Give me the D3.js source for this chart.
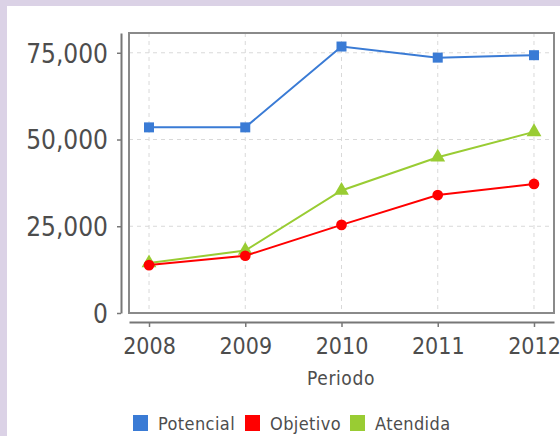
<!DOCTYPE html>
<html>
<head>
<meta charset="utf-8">
<script src="https://cdn.jsdelivr.net/npm/d3@7"></script>
<style>
  html, body { margin: 0; padding: 0; background: #dbd2e6; }
  svg { display: block; }
  text { font-family: "DejaVu Sans Condensed", "DejaVu Sans", sans-serif; fill: #4d4d4d; }
</style>
</head>
<body>
<svg id="chart" width="560" height="436"></svg>
<script>
// data
var periods   = ["2008", "2009", "2010", "2011", "2012"];
var potencial = [53500, 53500, 76800, 73600, 74300];
var objetivo  = [13800, 16500, 25400, 34000, 37200];
var atendida  = [14400, 18000, 35300, 44900, 52200];
var yTicks    = [0, 25000, 50000, 75000];
var yTop      = 80700;

var seriesNames  = ["Potencial", "Objetivo", "Atendida"];
var seriesValues = [potencial, objetivo, atendida];
var seriesColors = ["#3a7bd5", "#ff0000", "#99cc33"];
var seriesShapes = [d3.symbolSquare, d3.symbolCircle, d3.symbolTriangle];
var shapeSizes   = [100, 90, 95];

var plot = {left: 129, top: 33, right: 554, bottom: 313};

var svg = d3.select("#chart");

// white panel
svg.append("rect")
    .attr("x", 7).attr("y", 6)
    .attr("width", 553).attr("height", 430)
    .attr("fill", "#ffffff");

var xScale = d3.scalePoint()
    .domain(periods)
    .range([plot.left, plot.right])
    .padding(0.208);

var yScale = d3.scaleLinear()
    .domain([0, yTop])
    .range([plot.bottom, plot.top]);

// grid
var grid = svg.append("g").attr("class", "grid");
grid.selectAll("line.h")
    .data(yTicks.slice(1))
    .enter().append("line")
    .attr("class", "h")
    .attr("x1", plot.left).attr("x2", plot.right)
    .attr("y1", function (d) { return yScale(d); })
    .attr("y2", function (d) { return yScale(d); })
    .attr("stroke", "#d9d9d9")
    .attr("stroke-dasharray", "4,4");
grid.selectAll("line.v")
    .data(periods)
    .enter().append("line")
    .attr("class", "v")
    .attr("y1", plot.top).attr("y2", plot.bottom)
    .attr("x1", function (d) { return xScale(d); })
    .attr("x2", function (d) { return xScale(d); })
    .attr("stroke", "#d9d9d9")
    .attr("stroke-dasharray", "4,4");

// plot border
svg.append("rect")
    .attr("x", plot.left).attr("y", plot.top)
    .attr("width", plot.right - plot.left)
    .attr("height", plot.bottom - plot.top)
    .attr("fill", "none")
    .attr("stroke", "#8a8a8a")
    .attr("stroke-width", 2);

// Y axis
var yAxis = d3.axisLeft(yScale)
    .tickValues(yTicks)
    .tickFormat(d3.format(","))
    .tickSize(4)
    .tickSizeOuter(0)
    .tickPadding(9);
var gy = svg.append("g")
    .attr("class", "y axis")
    .attr("transform", "translate(121,0)")
    .call(yAxis);
gy.select(".domain").attr("stroke", "#777").attr("stroke-width", 2);
gy.selectAll(".tick line").attr("stroke", "#777").attr("stroke-width", 1.5);
gy.selectAll(".tick text")
    .attr("font-size", 26)
    .attr("font-family", null)
    .attr("fill", null)
    .attr("dy", "0.36em");

// X axis
var xAxis = d3.axisBottom(xScale)
    .tickSize(5)
    .tickSizeOuter(0)
    .tickPadding(11);
var gx = svg.append("g")
    .attr("class", "x axis")
    .attr("transform", "translate(0,322)")
    .call(xAxis);
gx.select(".domain").attr("stroke", "#777").attr("stroke-width", 2);
gx.selectAll(".tick line").attr("stroke", "#777").attr("stroke-width", 1.5);
gx.selectAll(".tick text")
    .attr("font-size", 23)
    .attr("font-family", null)
    .attr("fill", null);

// axis title
svg.append("text")
    .attr("x", 341)
    .attr("y", 385)
    .attr("text-anchor", "middle")
    .attr("font-size", 19)
    .attr("letter-spacing", 0.6)
    .text("Periodo");

// lines and markers
var line = d3.line()
    .x(function (d, i) { return xScale(periods[i]); })
    .y(function (d) { return yScale(d); });

[0, 2, 1].forEach(function (k) {
    var g = svg.append("g").attr("class", "series");
    g.append("path")
        .attr("d", line(seriesValues[k]))
        .attr("fill", "none")
        .attr("stroke", seriesColors[k])
        .attr("stroke-width", 2);
    g.selectAll("path.mark")
        .data(seriesValues[k])
        .enter().append("path")
        .attr("class", "mark")
        .attr("d", d3.symbol().type(seriesShapes[k]).size(shapeSizes[k]))
        .attr("transform", function (d, i) {
            return "translate(" + xScale(periods[i]) + "," + yScale(d) + ")";
        })
        .attr("fill", seriesColors[k]);
});

// legend
var legendX = [133, 245, 350];
var legend = svg.append("g").attr("class", "legend");
seriesNames.forEach(function (name, k) {
    legend.append("rect")
        .attr("x", legendX[k]).attr("y", 415)
        .attr("width", 15).attr("height", 16)
        .attr("fill", seriesColors[k]);
    legend.append("text")
        .attr("x", legendX[k] + 25)
        .attr("y", 430)
        .attr("font-size", 18)
        .attr("letter-spacing", 0.4)
        .text(name);
});
</script>
</body>
</html>
